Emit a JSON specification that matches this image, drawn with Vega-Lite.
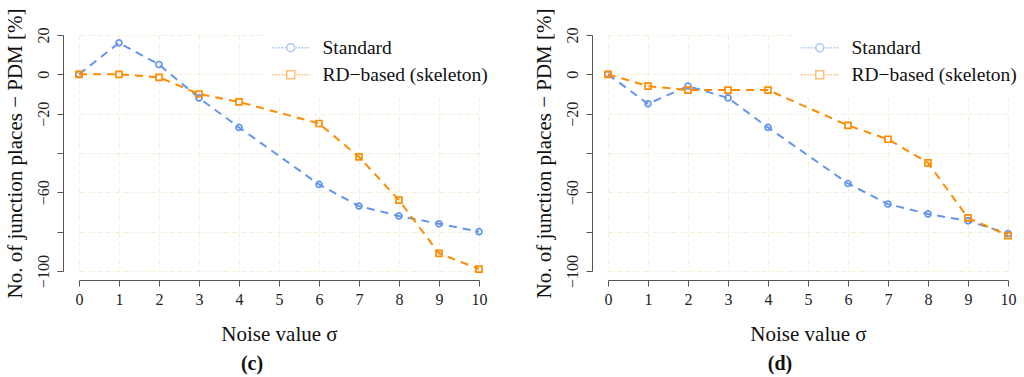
{
  "$schema": "https://vega.github.io/schema/vega-lite/v6.json",
  "autosize": {"type": "pad"},
  "padding": {"left": 3, "top": 7, "right": 5, "bottom": 5},
  "background": "white",
  "config": {
    "font": "Liberation Serif",
    "view": {"stroke": null},
    "axis": {
      "domainColor": "#555555",
      "tickColor": "#555555",
      "tickSize": 6,
      "labelColor": "#222222",
      "labelFont": "Liberation Serif",
      "labelFontSize": 16,
      "titleFont": "Liberation Serif",
      "titleFontSize": 21,
      "titleFontWeight": "normal",
      "titleColor": "#111111",
      "gridColor": "#f4ecd6",
      "gridDash": [4, 2, 1, 2],
      "gridWidth": 1
    },
    "legend": {
      "title": null, "orient": "none", "legendX": 188, "legendY": -5, "padding": 8, "fillColor": "white", "strokeColor": null,
      "symbolSize": 64, "symbolStrokeWidth": 1.5, "symbolOpacity": 0.55, "symbolOffset": 6, "labelOffset": 22,
      "labelFont": "Liberation Serif", "labelFontSize": 19.5, "labelColor": "#111111", "rowPadding": 6, "labelLimit": 400
    }
  },
  "datasets": {
    "c": [
      {"x": 0, "y": 0, "series": "Standard"},
      {"x": 1, "y": 16, "series": "Standard"},
      {"x": 2, "y": 5, "series": "Standard"},
      {"x": 3, "y": -12, "series": "Standard"},
      {"x": 4, "y": -27, "series": "Standard"},
      {"x": 6, "y": -56, "series": "Standard"},
      {"x": 7, "y": -67, "series": "Standard"},
      {"x": 8, "y": -72, "series": "Standard"},
      {"x": 9, "y": -76, "series": "Standard"},
      {"x": 10, "y": -80, "series": "Standard"},
      {"x": 0, "y": 0, "series": "RD−based (skeleton)"},
      {"x": 1, "y": 0, "series": "RD−based (skeleton)"},
      {"x": 2, "y": -1.5, "series": "RD−based (skeleton)"},
      {"x": 3, "y": -10, "series": "RD−based (skeleton)"},
      {"x": 4, "y": -14, "series": "RD−based (skeleton)"},
      {"x": 6, "y": -25, "series": "RD−based (skeleton)"},
      {"x": 7, "y": -42, "series": "RD−based (skeleton)"},
      {"x": 8, "y": -64, "series": "RD−based (skeleton)"},
      {"x": 9, "y": -91, "series": "RD−based (skeleton)"},
      {"x": 10, "y": -99, "series": "RD−based (skeleton)"}
    ],
    "d": [
      {"x": 0, "y": 0, "series": "Standard"},
      {"x": 1, "y": -15, "series": "Standard"},
      {"x": 2, "y": -6, "series": "Standard"},
      {"x": 3, "y": -12, "series": "Standard"},
      {"x": 4, "y": -27, "series": "Standard"},
      {"x": 6, "y": -55.5, "series": "Standard"},
      {"x": 7, "y": -66, "series": "Standard"},
      {"x": 8, "y": -71, "series": "Standard"},
      {"x": 9, "y": -74.5, "series": "Standard"},
      {"x": 10, "y": -81, "series": "Standard"},
      {"x": 0, "y": 0, "series": "RD−based (skeleton)"},
      {"x": 1, "y": -6, "series": "RD−based (skeleton)"},
      {"x": 2, "y": -8, "series": "RD−based (skeleton)"},
      {"x": 3, "y": -8, "series": "RD−based (skeleton)"},
      {"x": 4, "y": -8, "series": "RD−based (skeleton)"},
      {"x": 6, "y": -26, "series": "RD−based (skeleton)"},
      {"x": 7, "y": -33, "series": "RD−based (skeleton)"},
      {"x": 8, "y": -45, "series": "RD−based (skeleton)"},
      {"x": 9, "y": -73, "series": "RD−based (skeleton)"},
      {"x": 10, "y": -82, "series": "RD−based (skeleton)"}
    ]
  },
  "bounds": "flush",
  "spacing": 129,
  "resolve": {
    "scale": {"color": "independent", "shape": "independent"},
    "legend": {"color": "independent", "shape": "independent"}
  },
  "hconcat": [
    {
      "width": 400,
      "height": 236,
      "data": {"name": "c"},
      "title": {"text": "(c)", "orient": "bottom", "dx": -27, "offset": 10, "font": "Liberation Serif", "fontSize": 20, "fontWeight": "bold", "color": "#111111"},
      "encoding": {
        "x": {"field": "x", "type": "quantitative", "scale": {"domain": [0, 10], "nice": false, "zero": false},
          "axis": {"title": "Noise value σ", "values": [0,1,2,3,4,5,6,7,8,9,10], "offset": 9, "labelPadding": 5, "titlePadding": 16, "labelFlush": false}},
        "y": {"field": "y", "type": "quantitative", "scale": {"domain": [-100, 20], "nice": false, "zero": false},
          "axis": {"title": "No. of junction places − PDM [%]", "values": [-100,-80,-60,-40,-20,0,20], "offset": 16, "labelAngle": -90, "labelAlign": "center", "labelBaseline": "bottom", "labelPadding": 6, "titlePadding": 10, "labelFlush": false, "labelOverlap": false,
            "labelExpr": "datum.value == -40 || datum.value == -80 ? '' : datum.label"}},
        "color": {"field": "series", "type": "nominal", "scale": {"domain": ["Standard", "RD−based (skeleton)"], "range": ["#6495ED", "#FF8C00"]}}
      },
      "layer": [
        {
          "mark": {"type": "line", "strokeDash": [8, 6], "strokeWidth": 2}
        },
        {
          "transform": [{"filter": "datum.series == 'Standard'"}],
          "mark": {"type": "point", "shape": "circle", "filled": false, "size": 36, "strokeWidth": 1.7, "opacity": 1}
        },
        {
          "transform": [{"filter": "datum.series != 'Standard'"}],
          "mark": {"type": "point", "shape": "square", "filled": false, "size": 36, "strokeWidth": 1.7, "opacity": 1}
        },
        {
          "transform": [{"filter": "false"}],
          "mark": {"type": "point", "filled": false, "size": 64},
          "encoding": {
            "shape": {"field": "series", "type": "nominal", "scale": {"domain": ["Standard", "RD−based (skeleton)"], "range": [
              "M-4.6,0H-4.2M-3.85,0H-3.45M-3.1,0H-2.7M-2.35,0H-1.95M-1.6,0H-1.3M1.3,0H1.6M1.95,0H2.35M2.7,0H3.1M3.45,0H3.85M4.2,0H4.6M1,0A1,1 0 1,1 -1,0A1,1 0 1,1 1,0Z",
              "M-4.6,0H-4.2M-3.85,0H-3.45M-3.1,0H-2.7M-2.35,0H-1.95M-1.6,0H-1.3M1.3,0H1.6M1.95,0H2.35M2.7,0H3.1M3.45,0H3.85M4.2,0H4.6M-1,-1H1V1H-1Z"]}}
          }
        }
      ]
    },
    {
      "width": 400,
      "height": 236,
      "data": {"name": "d"},
      "title": {"text": "(d)", "orient": "bottom", "dx": -28, "offset": 10, "font": "Liberation Serif", "fontSize": 20, "fontWeight": "bold", "color": "#111111"},
      "encoding": {
        "x": {"field": "x", "type": "quantitative", "scale": {"domain": [0, 10], "nice": false, "zero": false},
          "axis": {"title": "Noise value σ", "values": [0,1,2,3,4,5,6,7,8,9,10], "offset": 9, "labelPadding": 5, "titlePadding": 16, "labelFlush": false}},
        "y": {"field": "y", "type": "quantitative", "scale": {"domain": [-100, 20], "nice": false, "zero": false},
          "axis": {"title": "No. of junction places − PDM [%]", "values": [-100,-80,-60,-40,-20,0,20], "offset": 16, "labelAngle": -90, "labelAlign": "center", "labelBaseline": "bottom", "labelPadding": 6, "titlePadding": 10, "labelFlush": false, "labelOverlap": false,
            "labelExpr": "datum.value == -40 || datum.value == -80 ? '' : datum.label"}},
        "color": {"field": "series", "type": "nominal", "scale": {"domain": ["Standard", "RD−based (skeleton)"], "range": ["#6495ED", "#FF8C00"]}}
      },
      "layer": [
        {
          "mark": {"type": "line", "strokeDash": [8, 6], "strokeWidth": 2}
        },
        {
          "transform": [{"filter": "datum.series == 'Standard'"}],
          "mark": {"type": "point", "shape": "circle", "filled": false, "size": 36, "strokeWidth": 1.7, "opacity": 1}
        },
        {
          "transform": [{"filter": "datum.series != 'Standard'"}],
          "mark": {"type": "point", "shape": "square", "filled": false, "size": 36, "strokeWidth": 1.7, "opacity": 1}
        },
        {
          "transform": [{"filter": "false"}],
          "mark": {"type": "point", "filled": false, "size": 64},
          "encoding": {
            "shape": {"field": "series", "type": "nominal", "scale": {"domain": ["Standard", "RD−based (skeleton)"], "range": [
              "M-4.6,0H-4.2M-3.85,0H-3.45M-3.1,0H-2.7M-2.35,0H-1.95M-1.6,0H-1.3M1.3,0H1.6M1.95,0H2.35M2.7,0H3.1M3.45,0H3.85M4.2,0H4.6M1,0A1,1 0 1,1 -1,0A1,1 0 1,1 1,0Z",
              "M-4.6,0H-4.2M-3.85,0H-3.45M-3.1,0H-2.7M-2.35,0H-1.95M-1.6,0H-1.3M1.3,0H1.6M1.95,0H2.35M2.7,0H3.1M3.45,0H3.85M4.2,0H4.6M-1,-1H1V1H-1Z"]}}
          }
        }
      ]
    }
  ]
}
